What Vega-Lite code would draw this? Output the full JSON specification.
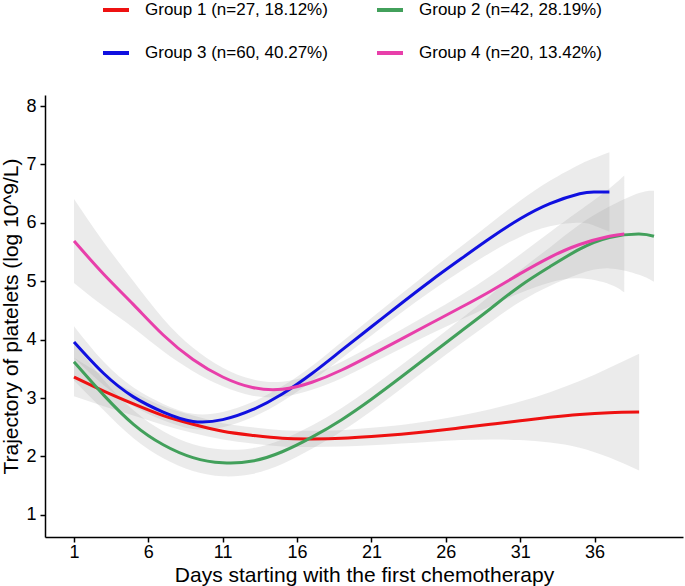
{
  "$schema": "https://vega.github.io/schema/vega-lite/v6.json",
  "autosize": "none",
  "width": 638,
  "height": 442,
  "padding": {"left": 45, "top": 95, "right": 2, "bottom": 49},
  "background": "white",
  "config": {
    "view": {"stroke": null},
    "font": "Liberation Sans",
    "axis": {
      "grid": false,
      "domainColor": "black",
      "domainWidth": 1.5,
      "tickColor": "black",
      "tickWidth": 1.5,
      "tickSize": 5,
      "labelFont": "Liberation Sans",
      "labelFontSize": 18,
      "labelColor": "black",
      "titleFont": "Liberation Sans",
      "titleFontSize": 21,
      "titleFontWeight": "normal",
      "titleColor": "black"
    }
  },
  "data": {
    "values": [
      {"g": "Group 1 (n=27, 18.12%)", "day": 1, "y": 3.36, "lo": 3.03, "hi": 3.69},
      {"g": "Group 1 (n=27, 18.12%)", "day": 3, "y": 3.12, "lo": 2.86, "hi": 3.38},
      {"g": "Group 1 (n=27, 18.12%)", "day": 5, "y": 2.90, "lo": 2.70, "hi": 3.10},
      {"g": "Group 1 (n=27, 18.12%)", "day": 7, "y": 2.70, "lo": 2.54, "hi": 2.86},
      {"g": "Group 1 (n=27, 18.12%)", "day": 9, "y": 2.55, "lo": 2.40, "hi": 2.70},
      {"g": "Group 1 (n=27, 18.12%)", "day": 11, "y": 2.43, "lo": 2.29, "hi": 2.57},
      {"g": "Group 1 (n=27, 18.12%)", "day": 13, "y": 2.36, "lo": 2.22, "hi": 2.50},
      {"g": "Group 1 (n=27, 18.12%)", "day": 15, "y": 2.31, "lo": 2.17, "hi": 2.45},
      {"g": "Group 1 (n=27, 18.12%)", "day": 17, "y": 2.30, "lo": 2.16, "hi": 2.44},
      {"g": "Group 1 (n=27, 18.12%)", "day": 19, "y": 2.31, "lo": 2.17, "hi": 2.45},
      {"g": "Group 1 (n=27, 18.12%)", "day": 21, "y": 2.34, "lo": 2.19, "hi": 2.49},
      {"g": "Group 1 (n=27, 18.12%)", "day": 23, "y": 2.38, "lo": 2.22, "hi": 2.54},
      {"g": "Group 1 (n=27, 18.12%)", "day": 25, "y": 2.43, "lo": 2.25, "hi": 2.61},
      {"g": "Group 1 (n=27, 18.12%)", "day": 27, "y": 2.49, "lo": 2.28, "hi": 2.70},
      {"g": "Group 1 (n=27, 18.12%)", "day": 29, "y": 2.55, "lo": 2.29, "hi": 2.81},
      {"g": "Group 1 (n=27, 18.12%)", "day": 31, "y": 2.61, "lo": 2.28, "hi": 2.94},
      {"g": "Group 1 (n=27, 18.12%)", "day": 33, "y": 2.67, "lo": 2.24, "hi": 3.10},
      {"g": "Group 1 (n=27, 18.12%)", "day": 35, "y": 2.72, "lo": 2.15, "hi": 3.29},
      {"g": "Group 1 (n=27, 18.12%)", "day": 37, "y": 2.75, "lo": 1.98, "hi": 3.52},
      {"g": "Group 1 (n=27, 18.12%)", "day": 39, "y": 2.76, "lo": 1.76, "hi": 3.76},

      {"g": "Group 2 (n=42, 28.19%)", "day": 1, "y": 3.62, "lo": 3.30, "hi": 3.94},
      {"g": "Group 2 (n=42, 28.19%)", "day": 3, "y": 3.05, "lo": 2.79, "hi": 3.31},
      {"g": "Group 2 (n=42, 28.19%)", "day": 5, "y": 2.55, "lo": 2.31, "hi": 2.79},
      {"g": "Group 2 (n=42, 28.19%)", "day": 7, "y": 2.20, "lo": 1.97, "hi": 2.43},
      {"g": "Group 2 (n=42, 28.19%)", "day": 9, "y": 1.98, "lo": 1.75, "hi": 2.21},
      {"g": "Group 2 (n=42, 28.19%)", "day": 11, "y": 1.89, "lo": 1.66, "hi": 2.12},
      {"g": "Group 2 (n=42, 28.19%)", "day": 13, "y": 1.92, "lo": 1.70, "hi": 2.14},
      {"g": "Group 2 (n=42, 28.19%)", "day": 15, "y": 2.08, "lo": 1.87, "hi": 2.29},
      {"g": "Group 2 (n=42, 28.19%)", "day": 17, "y": 2.33, "lo": 2.13, "hi": 2.53},
      {"g": "Group 2 (n=42, 28.19%)", "day": 19, "y": 2.63, "lo": 2.43, "hi": 2.83},
      {"g": "Group 2 (n=42, 28.19%)", "day": 21, "y": 2.98, "lo": 2.78, "hi": 3.18},
      {"g": "Group 2 (n=42, 28.19%)", "day": 23, "y": 3.36, "lo": 3.16, "hi": 3.56},
      {"g": "Group 2 (n=42, 28.19%)", "day": 25, "y": 3.75, "lo": 3.55, "hi": 3.95},
      {"g": "Group 2 (n=42, 28.19%)", "day": 27, "y": 4.14, "lo": 3.93, "hi": 4.35},
      {"g": "Group 2 (n=42, 28.19%)", "day": 29, "y": 4.53, "lo": 4.30, "hi": 4.76},
      {"g": "Group 2 (n=42, 28.19%)", "day": 31, "y": 4.92, "lo": 4.65, "hi": 5.19},
      {"g": "Group 2 (n=42, 28.19%)", "day": 33, "y": 5.25, "lo": 4.92, "hi": 5.58},
      {"g": "Group 2 (n=42, 28.19%)", "day": 35, "y": 5.55, "lo": 5.13, "hi": 5.97},
      {"g": "Group 2 (n=42, 28.19%)", "day": 37, "y": 5.75, "lo": 5.22, "hi": 6.28},
      {"g": "Group 2 (n=42, 28.19%)", "day": 39, "y": 5.81, "lo": 5.11, "hi": 6.51},
      {"g": "Group 2 (n=42, 28.19%)", "day": 40, "y": 5.77, "lo": 4.99, "hi": 6.55},

      {"g": "Group 3 (n=60, 40.27%)", "day": 1, "y": 3.96, "lo": 3.69, "hi": 4.23},
      {"g": "Group 3 (n=60, 40.27%)", "day": 3, "y": 3.42, "lo": 3.22, "hi": 3.62},
      {"g": "Group 3 (n=60, 40.27%)", "day": 5, "y": 3.02, "lo": 2.86, "hi": 3.18},
      {"g": "Group 3 (n=60, 40.27%)", "day": 7, "y": 2.76, "lo": 2.62, "hi": 2.90},
      {"g": "Group 3 (n=60, 40.27%)", "day": 9, "y": 2.60, "lo": 2.47, "hi": 2.73},
      {"g": "Group 3 (n=60, 40.27%)", "day": 11, "y": 2.63, "lo": 2.50, "hi": 2.76},
      {"g": "Group 3 (n=60, 40.27%)", "day": 13, "y": 2.80, "lo": 2.67, "hi": 2.93},
      {"g": "Group 3 (n=60, 40.27%)", "day": 15, "y": 3.07, "lo": 2.94, "hi": 3.20},
      {"g": "Group 3 (n=60, 40.27%)", "day": 17, "y": 3.42, "lo": 3.29, "hi": 3.55},
      {"g": "Group 3 (n=60, 40.27%)", "day": 19, "y": 3.82, "lo": 3.68, "hi": 3.96},
      {"g": "Group 3 (n=60, 40.27%)", "day": 21, "y": 4.22, "lo": 4.07, "hi": 4.37},
      {"g": "Group 3 (n=60, 40.27%)", "day": 23, "y": 4.62, "lo": 4.46, "hi": 4.78},
      {"g": "Group 3 (n=60, 40.27%)", "day": 25, "y": 5.01, "lo": 4.83, "hi": 5.19},
      {"g": "Group 3 (n=60, 40.27%)", "day": 27, "y": 5.38, "lo": 5.17, "hi": 5.59},
      {"g": "Group 3 (n=60, 40.27%)", "day": 29, "y": 5.74, "lo": 5.49, "hi": 5.99},
      {"g": "Group 3 (n=60, 40.27%)", "day": 31, "y": 6.07, "lo": 5.76, "hi": 6.38},
      {"g": "Group 3 (n=60, 40.27%)", "day": 33, "y": 6.33, "lo": 5.94, "hi": 6.72},
      {"g": "Group 3 (n=60, 40.27%)", "day": 35, "y": 6.50, "lo": 6.00, "hi": 7.00},
      {"g": "Group 3 (n=60, 40.27%)", "day": 36, "y": 6.53, "lo": 5.95, "hi": 7.11},
      {"g": "Group 3 (n=60, 40.27%)", "day": 37, "y": 6.53, "lo": 5.85, "hi": 7.21},

      {"g": "Group 4 (n=20, 13.42%)", "day": 1, "y": 5.69, "lo": 4.97, "hi": 6.41},
      {"g": "Group 4 (n=20, 13.42%)", "day": 3, "y": 5.12, "lo": 4.57, "hi": 5.67},
      {"g": "Group 4 (n=20, 13.42%)", "day": 5, "y": 4.60, "lo": 4.20, "hi": 5.00},
      {"g": "Group 4 (n=20, 13.42%)", "day": 7, "y": 4.08, "lo": 3.80, "hi": 4.36},
      {"g": "Group 4 (n=20, 13.42%)", "day": 9, "y": 3.66, "lo": 3.46, "hi": 3.86},
      {"g": "Group 4 (n=20, 13.42%)", "day": 11, "y": 3.36, "lo": 3.20, "hi": 3.52},
      {"g": "Group 4 (n=20, 13.42%)", "day": 13, "y": 3.18, "lo": 3.04, "hi": 3.32},
      {"g": "Group 4 (n=20, 13.42%)", "day": 15, "y": 3.15, "lo": 3.02, "hi": 3.28},
      {"g": "Group 4 (n=20, 13.42%)", "day": 17, "y": 3.27, "lo": 3.14, "hi": 3.40},
      {"g": "Group 4 (n=20, 13.42%)", "day": 19, "y": 3.48, "lo": 3.34, "hi": 3.62},
      {"g": "Group 4 (n=20, 13.42%)", "day": 21, "y": 3.74, "lo": 3.59, "hi": 3.89},
      {"g": "Group 4 (n=20, 13.42%)", "day": 23, "y": 4.01, "lo": 3.85, "hi": 4.17},
      {"g": "Group 4 (n=20, 13.42%)", "day": 25, "y": 4.28, "lo": 4.10, "hi": 4.46},
      {"g": "Group 4 (n=20, 13.42%)", "day": 27, "y": 4.55, "lo": 4.34, "hi": 4.76},
      {"g": "Group 4 (n=20, 13.42%)", "day": 29, "y": 4.83, "lo": 4.57, "hi": 5.09},
      {"g": "Group 4 (n=20, 13.42%)", "day": 31, "y": 5.13, "lo": 4.80, "hi": 5.46},
      {"g": "Group 4 (n=20, 13.42%)", "day": 33, "y": 5.41, "lo": 4.98, "hi": 5.84},
      {"g": "Group 4 (n=20, 13.42%)", "day": 35, "y": 5.63, "lo": 5.05, "hi": 6.21},
      {"g": "Group 4 (n=20, 13.42%)", "day": 37, "y": 5.77, "lo": 4.95, "hi": 6.59},
      {"g": "Group 4 (n=20, 13.42%)", "day": 38, "y": 5.81, "lo": 4.81, "hi": 6.81}
    ]
  },
  "encoding": {
    "x": {
      "field": "day",
      "type": "quantitative",
      "scale": {"domain": [-0.95, 41.95], "nice": false, "zero": false},
      "axis": {
        "title": "Days starting with the first chemotherapy",
        "values": [1, 6, 11, 16, 21, 26, 31, 36],
        "labelPadding": 1,
        "titlePadding": 3
      }
    }
  },
  "layer": [
    {
      "mark": {"type": "area", "interpolate": "natural", "color": "#999999", "opacity": 0.2},
      "encoding": {
        "y": {"field": "lo", "type": "quantitative"},
        "y2": {"field": "hi"},
        "detail": {"field": "g"}
      }
    },
    {
      "mark": {"type": "line", "interpolate": "natural", "strokeWidth": 3},
      "encoding": {
        "y": {
          "field": "y",
          "type": "quantitative",
          "scale": {"domain": [0.62, 8.19], "nice": false, "zero": false},
          "axis": {
            "title": "Trajectory of platelets (log 10^9/L)",
            "values": [1, 2, 3, 4, 5, 6, 7, 8],
            "format": "d",
            "labelPadding": 4,
            "titlePadding": 4
          }
        },
        "color": {
          "field": "g",
          "type": "nominal",
          "scale": {
            "domain": ["Group 1 (n=27, 18.12%)", "Group 2 (n=42, 28.19%)", "Group 3 (n=60, 40.27%)", "Group 4 (n=20, 13.42%)"],
            "range": ["#EE1111", "#42A05B", "#1010E0", "#E83FAA"]
          },
          "legend": {
            "title": null,
            "orient": "none",
            "legendX": 56,
            "legendY": -100,
            "direction": "horizontal",
            "columns": 2,
            "padding": 0,
            "symbolType": "stroke",
            "symbolSize": 676,
            "symbolStrokeWidth": 4,
            "labelFont": "Liberation Sans",
            "labelFontSize": 17,
            "labelColor": "black",
            "labelOffset": 14,
            "labelLimit": 300,
            "columnPadding": 41,
            "rowPadding": 20
          }
        }
      }
    }
  ]
}
